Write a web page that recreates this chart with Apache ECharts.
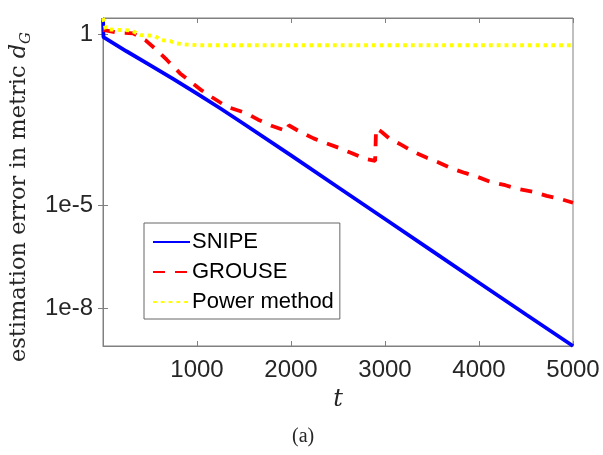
<!DOCTYPE html>
<html>
<head>
<meta charset="utf-8">
<script src="https://cdn.jsdelivr.net/npm/echarts@6.0.0/dist/echarts.min.js"></script>
<style>
html,body{margin:0;padding:0;background:#fff;}
#chart{width:603px;height:455px;}
</style>
</head>
<body>
<div id="chart"></div>
<script>
// ---- data ----
const tSnipe = [0, 5, 250, 500, 750, 1000, 1250, 1500, 2000, 2500, 3000, 3500, 4000, 4500, 5000];
const vSnipe = [3.0, 0.83, 0.32, 0.126, 0.049, 0.0186, 6.8e-3, 2.4e-3, 2.9e-4, 3.4e-5, 4.0e-6, 4.7e-7, 5.5e-8, 6.5e-9, 7.8e-10];

const tGrouse = [0, 130, 320, 450, 570, 680, 820, 910, 1050, 1160, 1320, 1530, 1650, 1800, 1920, 1965, 1975, 2100, 2240, 2360, 2520, 2630, 2790, 2895, 2905, 2965, 3050, 3180, 3300, 3440, 3570, 3710, 3850, 3980, 4120, 4280, 4420, 4580, 4720, 4880, 5000];
const vGrouse = [1.35, 1.15, 1.07, 0.68, 0.35, 0.178, 0.072, 0.046, 0.023, 0.0145, 7.6e-3, 4.9e-3, 3.2e-3, 2.1e-3, 1.6e-3, 1.5e-3, 2.2e-3, 1.4e-3, 9.1e-4, 6.8e-4, 4.7e-4, 3.5e-4, 2.3e-4, 2.0e-4, 1.8e-3, 1.4e-3, 8.9e-4, 5.8e-4, 3.7e-4, 2.5e-4, 1.8e-4, 1.2e-4, 8.9e-5, 6.9e-5, 4.9e-5, 3.9e-5, 3.0e-5, 2.5e-5, 1.9e-5, 1.5e-5, 1.2e-5];

const tPower = [0, 30, 300, 400, 550, 620, 720, 760, 900, 1000, 2000, 3000, 4000, 5000];
const vPower = [3.0, 1.4, 1.3, 0.95, 0.9, 0.68, 0.63, 0.55, 0.50, 0.48, 0.48, 0.48, 0.48, 0.48];

const seriesNames = ['SNIPE', 'GROUSE', 'Power method'];
const yTickValues = [1, 1e-5, 1e-8];
const xRange = [0, 5000];
const yRange = [7.8e-10, 3.0];

function pairs(t, v) { return t.map((x, i) => [x, v[i]]); }

const sansFont = 'Liberation Sans';
const serifFont = 'DejaVu Serif';
const axisGray = '#808080';
const textDark = '#262626';

function yFmt(v) {
  const e = Math.round(Math.log10(v));
  if (e === 0) return '1';
  return '1e' + e;
}

const chart = echarts.init(document.getElementById('chart'), null, {renderer: 'canvas'});
const option = {
  backgroundColor: '#fff',
  animation: false,
  grid: {left: 103, right: 30, top: 18, bottom: 109, containLabel: false, outerBoundsMode: 'none',
         show: true, borderColor: axisGray, borderWidth: 1, backgroundColor: 'transparent'},
  legend: {
    orient: 'vertical', left: 144, top: 223,
    data: seriesNames,
    itemWidth: 37, itemHeight: 14, itemGap: 8,
    padding: [8, 6, 6, 8],
    itemStyle: {opacity: 0, color: 'rgba(0,0,0,0)', borderWidth: 0},
    backgroundColor: '#fff', borderColor: '#666', borderWidth: 1, borderRadius: 0,
    textStyle: {fontFamily: sansFont, fontSize: 22, color: '#000', padding: [0, 0, 0, -3]}
  },
  xAxis: [{
    type: 'value', min: xRange[0], max: xRange[1], interval: 1000,
    name: 't', nameLocation: 'middle', nameGap: 42,
    nameTextStyle: {fontFamily: serifFont, fontStyle: 'italic', fontSize: 24, color: textDark},
    axisLine: {show: true, lineStyle: {color: axisGray, width: 1}},
    axisTick: {show: true, inside: true, length: 5, lineStyle: {color: axisGray}},
    axisLabel: {showMinLabel: false, fontFamily: sansFont, fontSize: 24, color: textDark, margin: 12,
                formatter: v => String(v)},
    splitLine: {show: false}
  }, {
    type: 'value', position: 'top', min: xRange[0], max: xRange[1], interval: 1000,
    axisLine: {show: true, lineStyle: {color: axisGray, width: 1}},
    axisTick: {show: true, inside: true, length: 5, lineStyle: {color: axisGray}},
    axisLabel: {show: false}, splitLine: {show: false}
  }],
  yAxis: [{
    type: 'log', logBase: 10, min: yRange[0], max: yRange[1],
    name: '{n|estimation error in metric }{d|d}{g|G}',
    nameLocation: 'middle', nameGap: 65, nameRotate: 90,
    nameTextStyle: {
      color: textDark,
      padding: [0, 30, 0, 0],
      rich: {
        n: {fontFamily: serifFont, fontSize: 22.5, color: textDark, lineHeight: 30, verticalAlign: 'middle'},
        d: {fontFamily: serifFont, fontSize: 22.5, fontStyle: 'italic', color: textDark, lineHeight: 30, verticalAlign: 'middle'},
        g: {fontFamily: serifFont, fontSize: 15, fontStyle: 'italic', color: textDark, lineHeight: 30, verticalAlign: 'bottom'}
      }
    },
    axisLine: {show: true, lineStyle: {color: axisGray, width: 1}},
    axisTick: {show: true, inside: true, length: 5, lineStyle: {color: axisGray}, customValues: yTickValues},
    axisLabel: {fontFamily: sansFont, fontSize: 24, color: textDark, margin: 10, customValues: yTickValues, formatter: yFmt},
    splitLine: {show: false}
  }, {
    type: 'log', logBase: 10, min: yRange[0], max: yRange[1], position: 'right',
    axisLine: {show: true, lineStyle: {color: axisGray, width: 1}},
    axisTick: {show: true, inside: true, length: 5, lineStyle: {color: axisGray}, customValues: yTickValues},
    axisLabel: {show: false, customValues: yTickValues},
    splitLine: {show: false}
  }],
  series: [
    {name: seriesNames[0], type: 'line', data: pairs(tSnipe, vSnipe), symbol: 'none', z: 3,
     lineStyle: {color: '#0000ff', width: 3.8, type: 'solid'}, itemStyle: {color: '#0000ff'}},
    {name: seriesNames[1], type: 'line', data: pairs(tGrouse, vGrouse), symbol: 'none', z: 4,
     lineStyle: {color: '#ff0000', width: 3.8, type: [12, 10]}, itemStyle: {color: '#ff0000'}},
    {name: seriesNames[2], type: 'line', data: pairs(tPower, vPower), symbol: 'none', z: 5,
     lineStyle: {color: '#ffff00', width: 3.8, type: [3.8, 4]}, itemStyle: {color: '#ffff00'}}
  ],
  graphic: [{
    type: 'text', left: 292, top: 427,
    style: {text: '(a)', fontFamily: 'Liberation Serif', fontSize: 20, fill: textDark}
  }]
};
chart.setOption(option);
</script>
</body>
</html>
